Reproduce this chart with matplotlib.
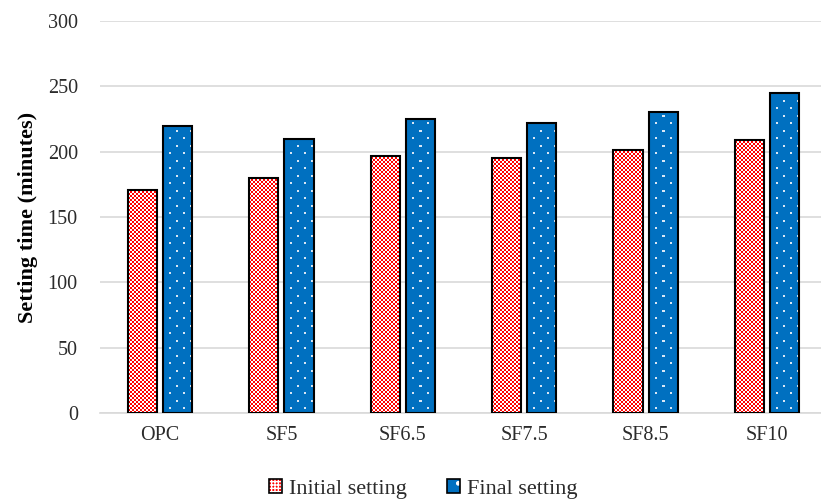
import numpy as np
import matplotlib
matplotlib.use("Agg")
import matplotlib.pyplot as plt
from matplotlib.patches import Patch

plt.rcParams['font.family'] = ['Liberation Serif', 'DejaVu Serif']
plt.rcParams['hatch.linewidth'] = 1.0

categories = ["OPC", "SF5", "SF6.5", "SF7.5", "SF8.5", "SF10"]
initial_setting = [171, 180, 197, 195, 201, 209]
final_setting = [220, 210, 225, 222, 230, 245]

RED = np.array([255, 0, 0]) / 255
BLUE = np.array([0, 112, 192]) / 255
WHITE = np.array([1.0, 1.0, 1.0])
DOT = np.array([215, 230, 245]) / 255


def checker(wpx, hpx):
    jj, ii = np.meshgrid(np.arange(wpx), np.arange(hpx))
    mask = ((ii // 2 + jj // 2) % 2 == 0)
    return np.where(mask[..., None], WHITE, RED)


def dotted(wpx, hpx):
    jj, ii = np.meshgrid(np.arange(wpx), np.arange(hpx))
    r = ii % 15
    c = jj % 14
    mask = (((r == 4) | (r == 5)) & ((c == 6) | (c == 7))) | \
           (((r == 11) | (r == 12)) & ((c == 13) | (c == 0)))
    return np.where(mask[..., None], DOT, BLUE)


fig = plt.figure(figsize=(8.21, 5.04), dpi=100)
ax = fig.add_axes([100 / 821, 1 - 413 / 504, 721 / 821, 392 / 504])

x = np.arange(len(categories))
w = 0.24
gap = 0.025
xlim = (-0.494, 5.445)
ylim = (0, 300)

bars_i = ax.bar(x - w / 2 - gap, initial_setting, w, fill=False, edgecolor='black',
                linewidth=1.5, zorder=3)
bars_f = ax.bar(x + w / 2 + gap, final_setting, w, fill=False, edgecolor='black',
                linewidth=1.5, zorder=3)
ax.set_xlim(*xlim)
ax.set_ylim(*ylim)

# pattern fills drawn as images inside each bar, snapped to whole pixels
inv = ax.transData.inverted()
for bars, pattern in ((bars_i, checker), (bars_f, dotted)):
    for rect in bars:
        x0, y0 = rect.get_x(), rect.get_y()
        x1, y1 = x0 + rect.get_width(), y0 + rect.get_height()
        pix = np.round(ax.transData.transform([[x0, y0], [x1, y1]]))
        (ex0, ey0), (ex1, ey1) = inv.transform(pix)
        wpx = int(pix[1, 0] - pix[0, 0])
        hpx = int(pix[1, 1] - pix[0, 1])
        ax.imshow(pattern(max(wpx, 1), max(hpx, 1)), extent=[ex0, ex1, ey0, ey1],
                  origin='lower', interpolation='nearest', aspect='auto', zorder=2)

ax.set_xlim(*xlim)
ax.set_ylim(*ylim)
ax.set_yticks(range(0, 301, 50))
ax.set_xticks(x)
ax.set_xticklabels(categories)
ax.yaxis.grid(True, color='#d9d9d9', linewidth=1.2, zorder=0)
ax.set_axisbelow(True)
for s in ['top', 'right', 'left']:
    ax.spines[s].set_visible(False)
ax.spines['bottom'].set_color('#d9d9d9')
ax.spines['bottom'].set_linewidth(1.2)
ax.tick_params(axis='both', length=0, labelsize=14.5, labelcolor='#2b2b2b')
ax.tick_params(axis='y', pad=16)
ax.tick_params(axis='x', pad=9)

ax.set_ylabel("Setting time (minutes)", fontsize=16, fontweight='bold')
ax.yaxis.set_label_coords(-0.086, 0.5)

handles = [
    (Patch(facecolor='#ff0000', edgecolor='white', hatch='+++++', linewidth=0),
     Patch(fill=False, edgecolor='black', linewidth=1.2)),
    (Patch(facecolor='#0070c0', edgecolor='white', hatch='.', linewidth=0),
     Patch(fill=False, edgecolor='black', linewidth=1.2)),
]
leg = fig.legend(handles=handles, labels=['Initial setting', 'Final setting'],
                 loc='center', bbox_to_anchor=(423 / 821, 1 - 489 / 504),
                 ncol=2, frameon=False, fontsize=16, handlelength=0.6, handleheight=0.6,
                 handletextpad=0.3, columnspacing=1.8)
for t in leg.get_texts():
    t.set_color('#2b2b2b')

fig.savefig("out.png", dpi=100)
